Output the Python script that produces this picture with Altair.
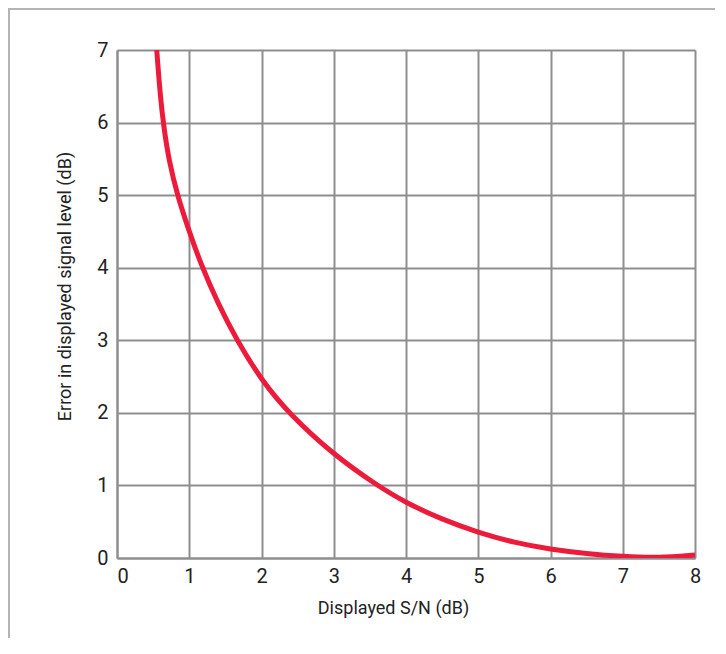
import altair as alt
import pandas as pd

# Curve
sn_db = [0.55, 0.60, 0.65, 0.72, 0.84, 1.00, 1.16, 1.40, 1.66, 2.00, 2.37, 3.00,
         3.60, 4.00, 4.50, 5.00, 5.50, 6.00, 6.50, 7.00, 7.50, 8.00]
error_db = [7.00, 6.35, 5.92, 5.47, 4.98, 4.50, 4.05, 3.50, 3.00, 2.45, 2.00, 1.42,
            1.00, 0.76, 0.53, 0.35, 0.21, 0.12, 0.06, 0.02, 0.00, 0.04]

x_ticks = [0, 1, 2, 3, 4, 5, 6, 7, 8]
y_ticks = [0, 1, 2, 3, 4, 5, 6, 7]

df = pd.DataFrame({"sn": sn_db, "err": error_db})

W, H = 578, 508
GRID = "#8d8e90"
FONT = "Roboto"
TXT = "#222222"

curve = alt.Chart(df).mark_line(
    color="#ec1b3b", strokeWidth=5, interpolate="basis", clip=True
).encode(
    x=alt.X("sn:Q", scale=alt.Scale(domain=[0, 8], nice=False),
            axis=alt.Axis(values=x_ticks, title="Displayed S/N (dB)",
                          grid=True, gridColor=GRID, gridWidth=2,
                          domainColor=GRID, domainWidth=2, ticks=False,
                          labelFlush=False,
                          labelAlign={"condition": {"test": "datum.value == 0", "value": "left"},
                                      "value": "center"},
                          labelPadding=8, labelFontSize=20, labelColor=TXT,
                          labelFont=FONT, titleFont=FONT, titleFontSize=18,
                          titleFontWeight="normal", titleColor=TXT,
                          titleX=276, titleY=50, titleBaseline="middle",
                          titleAlign="center")),
    y=alt.Y("err:Q", scale=alt.Scale(domain=[0, 7], nice=False),
            axis=alt.Axis(values=y_ticks, title="Error in displayed signal level (dB)",
                          grid=True, gridColor=GRID, gridWidth=2,
                          domainColor=GRID, domainWidth=2, ticks=False,
                          labelFlush=False,
                          labelPadding=9, labelFontSize=20, labelColor=TXT,
                          labelFont=FONT, titleFont=FONT, titleFontSize=18,
                          titleFontWeight="normal", titleColor=TXT,
                          titleX=-52, titleY=236, titleAngle=270,
                          titleBaseline="middle", titleAlign="center")),
)

frame_top = alt.Chart(df).mark_rule(color="#b5b5b5", strokeWidth=1.5).encode(
    x=alt.value(-110), x2=alt.value(620), y=alt.value(-41)
)
frame_left = alt.Chart(df).mark_rule(color="#b5b5b5", strokeWidth=1.5).encode(
    x=alt.value(-108), y=alt.value(-41), y2=alt.value(600)
)

chart = alt.layer(frame_top, frame_left, curve).properties(
    width=W, height=H,
    autosize=alt.AutoSizeParams(type="none"),
    padding={"left": 109, "top": 42, "right": 20, "bottom": 80},
).configure_view(
    fill="#e5e6e8", stroke=None
).configure(background="white")

chart.save("out.html", embed_options={"renderer": "svg", "actions": False})
